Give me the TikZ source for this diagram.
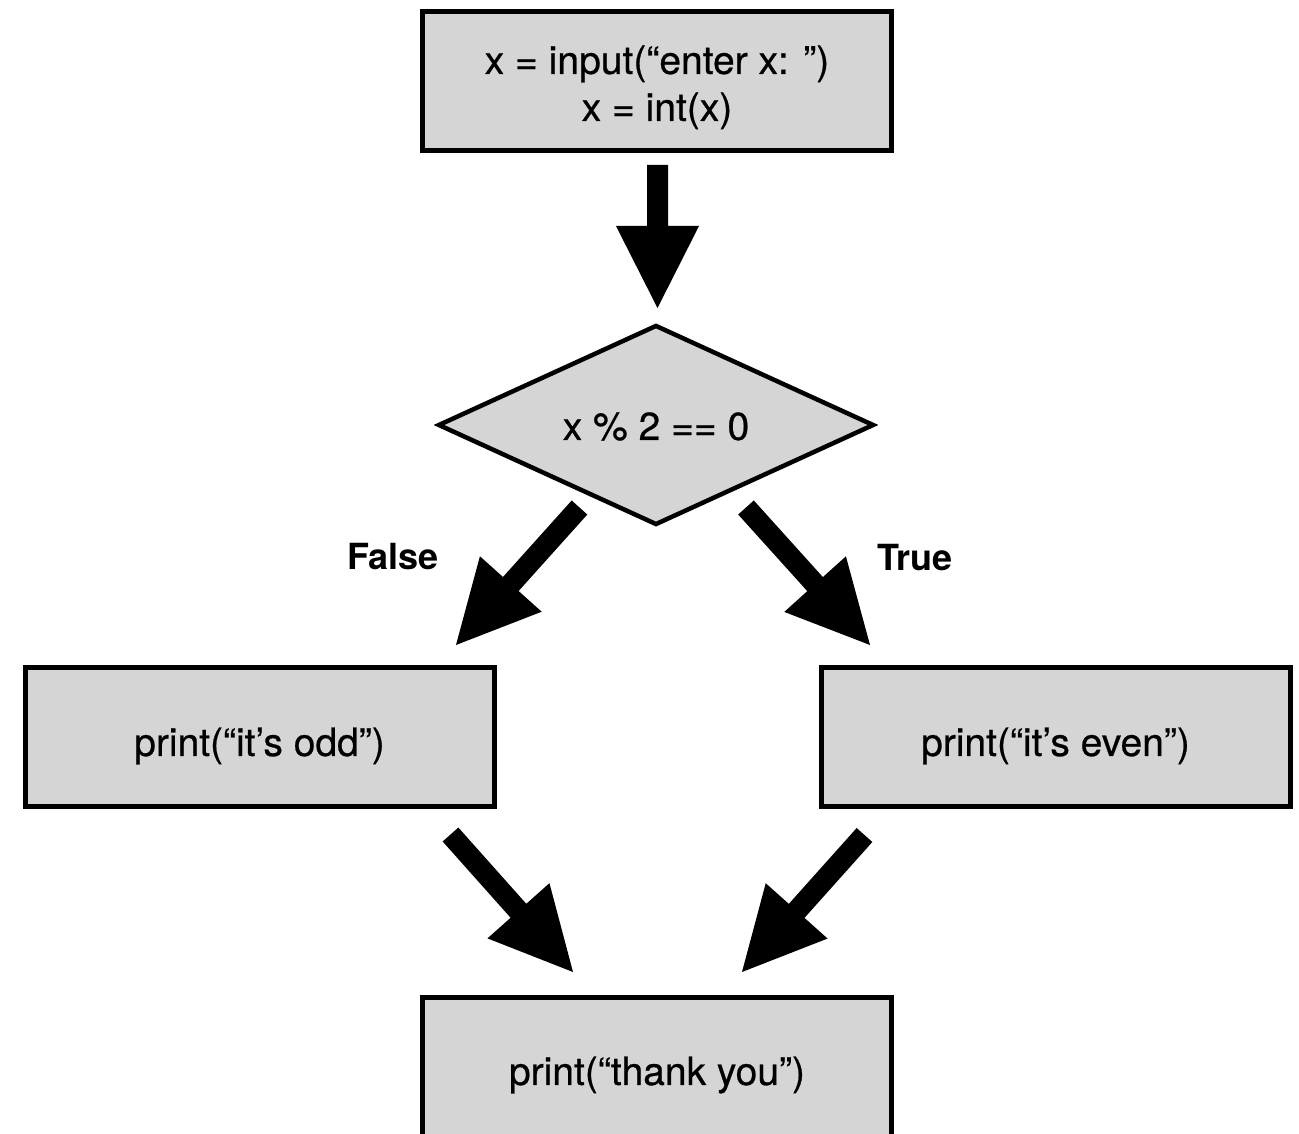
\documentclass[tikz,border=0pt]{standalone}
\usepackage{fontspec}
\setmainfont{TeX Gyre Heros}
\newfontfamily\codefont{TeX Gyre Heros}[FakeBold=0.6]
\usetikzlibrary{shapes.geometric,calc}
\definecolor{boxfill}{RGB}{213,213,213}
\tikzset{
  box/.style={draw=black, fill=boxfill, line width=5pt, minimum width=469pt,
    minimum height=139pt, inner sep=0pt, align=center,
    font=\codefont\fontsize{39}{47}\selectfont},
  decision/.style={diamond, draw=black, fill=boxfill, line width=4.5pt,
    minimum width=436pt, minimum height=200pt, inner sep=0pt, shape aspect=2.2,
    font=\codefont\fontsize{39}{47}\selectfont},
  lbl/.style={font=\fontsize{36}{40}\selectfont\bfseries, inner sep=0pt},
}
\newcommand\lowered[2]{\raisebox{-#1}[\height][\depth]{#2}}
\newcommand\blockarrow[2]{%
  \coordinate (ba-b) at ($(#2)!82pt!(#1)$);
  \fill[black] ($(#1)!10.5pt!90:(#2)$) -- ($(ba-b)!10.5pt!90:(#2)$)
    -- ($(ba-b)!41.5pt!90:(#2)$) -- (#2) -- ($(ba-b)!41.5pt!-90:(#2)$)
    -- ($(ba-b)!10.5pt!-90:(#2)$) -- ($(#1)!10.5pt!-90:(#2)$) -- cycle;
}
\begin{document}
\begin{tikzpicture}[x=1pt,y=-1pt]
\useasboundingbox (0,0) rectangle (1299,1134);
\clip (0,0) rectangle (1299,1134);
\node[box] (top) at (657,81)
  {\lowered{7pt}{\begin{tabular}{@{}c@{}}x = input(“enter x: ”)\\x = int(x)\end{tabular}}};
\node[decision] (dia) at (656,425) {\lowered{1.5pt}{x \% 2 == 0}};
\node[box] (odd) at (259.5,737) {\lowered{9pt}{print(“it’s odd”)}};
\node[box] (even) at (1055.5,737) {\lowered{9pt}{print(“it’s even”)}};
\node[box] (thanks) at (657,1067) {\lowered{8pt}{print(“thank you”)}};
\node[lbl] (lfalse) at (393,557) {False};
\node[lbl] (ltrue) at (915,558) {True};
\coordinate (a1s) at (657.5,165);
\coordinate (a1e) at (657.5,308);
\coordinate (a2s) at (579.5,507.5);
\coordinate (a2e) at (456,645);
\coordinate (a3s) at (746,507.5);
\coordinate (a3e) at (870,645);
\coordinate (a4s) at (450.5,834.5);
\coordinate (a4e) at (573,972);
\coordinate (a5s) at (864.5,835);
\coordinate (a5e) at (742,972);
\blockarrow{a1s}{a1e}
\blockarrow{a2s}{a2e}
\blockarrow{a3s}{a3e}
\blockarrow{a4s}{a4e}
\blockarrow{a5s}{a5e}
\end{tikzpicture}
\end{document}
